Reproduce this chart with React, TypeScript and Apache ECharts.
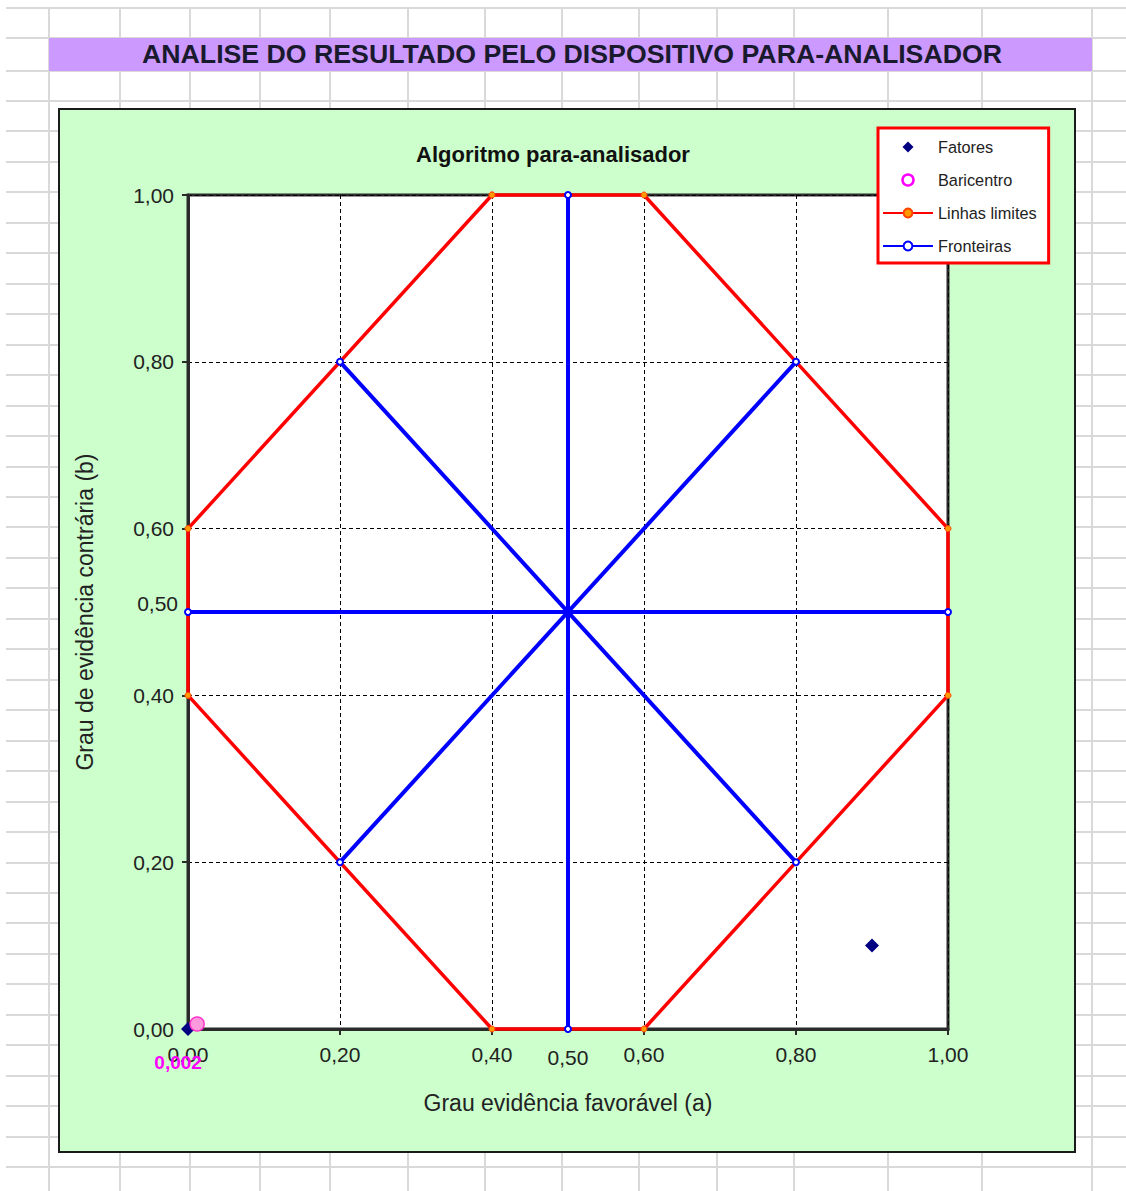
import React, { useEffect, useRef } from 'react';
import * as echarts from 'echarts';

// ---------- data ----------
const pageTitle = 'ANALISE DO RESULTADO PELO DISPOSITIVO PARA-ANALISADOR';
const chartTitle = 'Algoritmo para-analisador';
const xAxisName = 'Grau evidência favorável (a)';
const yAxisName = 'Grau de evidência contrária (b)';

const axisMin = 0;
const axisMax = 1;
const axisStep = 0.2;

const fatores = [
  [0, 0],
  [0.9, 0.1],
];
const baricentro = [[0.012, 0.006]];
const baricentroLabel = '0,002';

const linhasLimites = [
  [0.4, 1],
  [0.6, 1],
  [1, 0.6],
  [1, 0.4],
  [0.6, 0],
  [0.4, 0],
  [0, 0.4],
  [0, 0.6],
  [0.4, 1],
];

const fronteiraVertical = [[0.5, 0], [0.5, 1]];
const fronteiraHorizontal = [[0, 0.5], [1, 0.5]];
const fronteiraDiagonal1 = [[0.2, 0.2], [0.8, 0.8]];
const fronteiraDiagonal2 = [[0.2, 0.8], [0.8, 0.2]];

// ---------- layout ----------
const W = 1126;
const H = 1191;
const sheetCols = [49, 120, 190, 260, 330, 408, 485, 562, 639, 717, 794, 888, 982, 1092];
const sheetRows: number[] = [8, 38, 71];
for (let k = 0; k <= 35; k++) sheetRows.push(101 + 30.46 * k);

const FONT = '"Liberation Sans", Arial, sans-serif';
const fmt = (v: number) => v.toFixed(2).replace('.', ',');
// diamond centred in a 50x11 legend box (corner move-tos keep the box size)
const legendDiamond = 'path://M0,0M50,11M25,0L30.5,5.5L25,11L19.5,5.5Z';

export default function App() {
  const ref = useRef<HTMLDivElement>(null);

  useEffect(() => {
    if (!ref.current) return;
    const chart = echarts.init(ref.current, null, { renderer: 'svg' });

    const frontStyle = {
      type: 'line' as const,
      name: 'Fronteiras',
      symbol: 'emptyCircle',
      symbolSize: 6,
      clip: false,
      z: 4,
      lineStyle: { color: '#0000ff', width: 4 },
      itemStyle: { color: '#0000ff', borderWidth: 1.5 },
      emphasis: { disabled: true },
    };

    const option: any = {
      animation: false,
      backgroundColor: 'transparent',
      textStyle: { fontFamily: FONT },
      graphic: [
        {
          type: 'text',
          x: 572,
          y: 54,
          style: {
            text: pageTitle,
            fill: '#1a1a2e',
            font: `bold 26.7px ${FONT}`,
            textAlign: 'center',
            textVerticalAlign: 'middle',
          },
        },
        {
          type: 'text',
          x: 553,
          y: 154,
          style: {
            text: chartTitle,
            fill: '#111',
            font: `bold 22px ${FONT}`,
            textAlign: 'center',
            textVerticalAlign: 'middle',
          },
        },
      ],
      legend: {
        orient: 'vertical',
        left: 878,
        top: 128,
        padding: [11, 12, 9, 4],
        itemWidth: 50,
        itemHeight: 11,
        itemGap: 17,
        symbolKeepAspect: true,
        backgroundColor: '#ffffff',
        borderColor: '#ff0000',
        borderWidth: 3,
        borderRadius: 0,
        selectedMode: false,
        textStyle: { fontSize: 16.3, color: '#222', fontFamily: FONT },
        data: [
          { name: 'Fatores', icon: legendDiamond, itemStyle: { color: '#000080', opacity: 1 } },
          {
            name: 'Baricentro',
            icon: 'circle',
            itemStyle: { color: '#ffffff', borderColor: '#ff00ff', borderWidth: 2.5, opacity: 1 },
          },
          { name: 'Linhas limites' },
          { name: 'Fronteiras' },
        ],
      },
      grid: {
        left: 188,
        right: W - 948,
        top: 195,
        bottom: H - 1029,
        show: true,
        backgroundColor: '#ffffff',
        borderColor: '#2a2a2a',
        borderWidth: 3,
      },
      xAxis: {
        type: 'value',
        min: axisMin,
        max: axisMax,
        interval: axisStep,
        name: xAxisName,
        nameLocation: 'middle',
        nameGap: 62,
        nameTextStyle: { fontSize: 23, color: '#222', fontFamily: FONT },
        axisLine: { show: true, lineStyle: { color: '#2a2a2a', width: 3 } },
        axisTick: { show: true, length: 6, lineStyle: { color: '#2a2a2a', width: 2 } },
        axisLabel: { formatter: fmt, fontSize: 21, color: '#222', margin: 15, fontFamily: FONT },
        splitLine: { show: true, lineStyle: { color: '#000', width: 1, type: [4, 3] } },
      },
      yAxis: {
        type: 'value',
        min: axisMin,
        max: axisMax,
        interval: axisStep,
        name: yAxisName,
        nameLocation: 'middle',
        nameGap: 92,
        nameTextStyle: { fontSize: 23, color: '#222', fontFamily: FONT },
        axisLine: { show: true, lineStyle: { color: '#2a2a2a', width: 3 } },
        axisTick: { show: true, length: 6, lineStyle: { color: '#2a2a2a', width: 2 } },
        axisLabel: { formatter: fmt, fontSize: 21, color: '#222', margin: 14, fontFamily: FONT },
        splitLine: { show: true, lineStyle: { color: '#000', width: 1, type: [4, 3] } },
      },
      series: [
        {
          type: 'scatter',
          name: 'Fatores',
          data: fatores,
          symbol: 'diamond',
          symbolSize: 14,
          itemStyle: { color: '#000080', opacity: 1 },
          z: 5,
          clip: false,
          emphasis: { disabled: true },
        },
        {
          type: 'scatter',
          name: 'Baricentro',
          data: baricentro,
          symbol: 'circle',
          symbolSize: 14,
          itemStyle: { color: '#ff99dd', borderColor: '#ff33cc', borderWidth: 1.5, opacity: 1 },
          z: 6,
          clip: false,
          label: {
            show: true,
            formatter: baricentroLabel,
            position: 'bottom',
            distance: 21,
            offset: [-19, 0],
            color: '#ff00ff',
            fontWeight: 'bold',
            fontSize: 19,
            fontFamily: FONT,
          },
          emphasis: { disabled: true },
        },
        {
          type: 'line',
          name: 'Linhas limites',
          data: linhasLimites,
          symbol: 'circle',
          symbolSize: 6,
          clip: false,
          z: 3,
          lineStyle: { color: '#ff0000', width: 3.5 },
          itemStyle: { color: '#ff9900', borderColor: '#ff4400', borderWidth: 1 },
          emphasis: { disabled: true },
        },
        {
          ...frontStyle,
          data: fronteiraVertical.map((p, i) =>
            i === 0
              ? {
                  value: p,
                  label: {
                    show: true,
                    formatter: (d: any) => fmt(d.value[0]),
                    position: 'bottom',
                    distance: 14,
                    fontSize: 21,
                    color: '#222',
                    fontFamily: FONT,
                  },
                }
              : p
          ),
        },
        {
          ...frontStyle,
          data: fronteiraHorizontal.map((p, i) =>
            i === 0
              ? {
                  value: p,
                  label: {
                    show: true,
                    formatter: (d: any) => fmt(d.value[1]),
                    position: 'left',
                    distance: 6,
                    offset: [0, -9],
                    fontSize: 21,
                    color: '#222',
                    fontFamily: FONT,
                  },
                }
              : p
          ),
        },
        { ...frontStyle, data: fronteiraDiagonal1 },
        { ...frontStyle, data: fronteiraDiagonal2 },
      ],
    };

    chart.setOption(option);
    return () => chart.dispose();
  }, []);

  return (
    <div
      style={{
        position: 'absolute',
        left: 0,
        top: 0,
        width: W,
        height: H,
        background: '#ffffff',
        overflow: 'hidden',
      }}
    >
      {sheetRows.map((y, i) => (
        <div
          key={'r' + i}
          style={{
            position: 'absolute',
            left: 6,
            top: y - 1,
            width: W - 6,
            height: 2,
            background: '#d9d9d9',
          }}
        />
      ))}
      {sheetCols.map((x, i) => (
        <div
          key={'c' + i}
          style={{
            position: 'absolute',
            left: x - 1,
            top: 8,
            width: 2,
            height: H - 8,
            background: '#d9d9d9',
          }}
        />
      ))}
      <div
        style={{
          position: 'absolute',
          left: 49,
          top: 38,
          width: 1043,
          height: 33,
          background: '#cc99ff',
        }}
      />
      <div
        style={{
          position: 'absolute',
          left: 58,
          top: 108,
          width: 1018,
          height: 1045,
          background: '#ccffcc',
          border: '2px solid #1a1a1a',
          boxSizing: 'border-box',
        }}
      />
      <div ref={ref} style={{ position: 'absolute', left: 0, top: 0, width: W, height: H }} />
    </div>
  );
}
